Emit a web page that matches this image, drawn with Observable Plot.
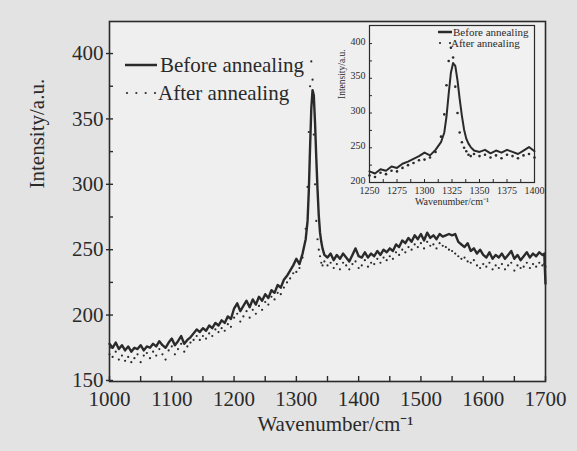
<!DOCTYPE html>
<html><head><meta charset="utf-8">
<script src="https://cdn.jsdelivr.net/npm/d3@7"></script>
<script src="https://cdn.jsdelivr.net/npm/@observablehq/plot@0.6"></script>
<style>
html,body{margin:0;padding:0;background:#e3e3e3;}
#fig{position:relative;width:577px;height:451px;overflow:hidden;background:#e3e3e3;}
#fig svg{position:absolute;}
</style></head><body><div id="fig"></div>
<script>
// Raman spectra (wavenumber in cm^-1, intensity in a.u.)
const wavenumber = [
1000,1005,1010,1015,1020,1025,1030,1035,1040,1045,
1050,1055,1060,1065,1070,1075,1080,1085,1090,1095,
1100,1105,1110,1115,1120,1125,1130,1135,1140,1145,
1150,1155,1160,1165,1170,1175,1180,1185,1190,1195,
1200,1205,1210,1215,1220,1225,1230,1235,1240,1245,
1250,1255,1260,1265,1270,1275,1280,1285,1290,1295,
1300,1305,1310,1315,1318,1320,1322,1324,1326,1328,
1330,1332,1334,1336,1338,1340,1342,1345,1350,1355,
1360,1365,1370,1375,1380,1385,1390,1395,1400,1405,
1410,1415,1420,1425,1430,1435,1440,1445,1450,1455,
1460,1465,1470,1475,1480,1485,1490,1495,1500,1505,
1510,1515,1520,1525,1530,1535,1540,1545,1550,1555,
1560,1565,1570,1575,1580,1585,1590,1595,1600,1605,
1610,1615,1620,1625,1630,1635,1640,1645,1650,1655,
1660,1665,1670,1675,1680,1685,1690,1695,1698,1700];
const before = [
178,175,179,174,177,173,176,172,175,174,
177,173,176,175,178,176,180,177,175,179,
182,177,180,184,178,181,183,186,189,187,
190,188,192,190,194,192,196,194,199,197,
205,209,203,207,211,206,212,208,214,211,
216,213,219,217,223,221,227,230,234,238,
243,239,247,258,272,295,328,358,372,368,
347,320,296,276,263,256,251,246,244,247,
242,246,243,247,244,241,246,251,245,244,
248,244,247,245,249,246,250,248,251,249,
254,252,257,255,259,256,261,258,262,257,
263,259,261,258,262,260,261,262,261,262,
256,254,252,255,249,251,247,250,246,244,
248,243,246,244,247,243,246,249,243,246,
242,245,248,244,247,245,248,246,247,224];
const after = [
170,168,172,166,169,165,168,164,167,170,
164,169,171,167,172,169,174,170,166,173,
176,170,174,178,172,176,179,181,184,181,
184,182,186,184,189,187,190,188,193,191,
198,201,195,199,203,198,204,201,207,204,
210,208,214,212,217,216,221,225,228,232,
233,236,244,266,298,340,375,394,380,338,
300,272,258,250,245,240,238,241,238,240,
236,239,235,240,238,235,239,241,236,238,
242,237,240,239,243,240,244,242,245,243,
248,246,250,248,252,250,254,252,255,251,
256,253,254,251,255,253,252,250,249,247,
245,243,244,241,240,242,238,236,239,237,
240,235,238,236,239,235,238,240,234,238,
236,237,240,236,239,237,240,238,239,237];

const seriesNames = ["Before annealing", "After annealing"];
const xLabel = "Wavenumber/cm\u207B\u00B9";
const yLabel = "Intensity/a.u.";

const mainXTicks = [1000,1100,1200,1300,1400,1500,1600,1700];
const mainXMinor = [1050,1150,1250,1350,1450,1550,1650];
const mainYTicks = [150,200,250,300,350,400];
const mainYMinor = [175,225,275,325,375];
const insetXTicks = [1250,1275,1300,1325,1350,1375,1400];
const insetXMinor = [1262.5,1287.5,1312.5,1337.5,1362.5,1387.5];
const insetYTicks = [200,250,300,350,400];
const insetYMinor = [225,275,325,375];

const rows = wavenumber.map((w, i) => ({w, before: before[i], after: after[i]}));
const insetRows = rows.filter(d => d.w >= 1250 && d.w <= 1400);

const serif = "'Liberation Serif','Times New Roman',serif";
const ink = "#2a2a2a";
const fig = document.getElementById("fig");

const main = Plot.plot({
  width: 577, height: 451,
  marginLeft: 109, marginRight: 32, marginTop: 21, marginBottom: 70,
  style: {background: "transparent", fontFamily: serif, color: ink, overflow: "visible"},
  x: {domain: [1000, 1700]},
  y: {domain: [149.2, 424.5]},
  marks: [
    Plot.frame({fill: "#efefef", stroke: "none"}),
    Plot.dot(rows, {x: "w", y: "after", r: 1.1, fill: ink, stroke: "none"}),
    Plot.line(rows, {x: "w", y: "before", stroke: ink, strokeWidth: 2.4}),
    Plot.frame({stroke: ink, strokeWidth: 1.6}),
    Plot.axisX({ticks: mainXTicks, tickSize: 0, tickPadding: 10, fontSize: 21, tickFormat: d => String(d), label: null}),
    Plot.axisX({ticks: mainXTicks.concat(mainXMinor), tickSize: -5, text: null, label: null, strokeWidth: 1.4}),
    Plot.axisY({ticks: mainYTicks, tickSize: 0, tickPadding: 6, fontSize: 21, label: null}),
    Plot.axisY({ticks: mainYTicks, tickSize: 3, text: null, label: null, strokeWidth: 1.4}),
    Plot.axisY({ticks: mainYTicks.concat(mainYMinor), tickSize: -4, text: null, label: null, strokeWidth: 1.4}),
    Plot.text([xLabel], {frameAnchor: "bottom", dx: 8, dy: 49, fontSize: 21, fill: ink}),
    Plot.text([yLabel], {frameAnchor: "left", dx: -72, dy: -13, rotate: -90, fontSize: 21, fill: ink})
  ]
});
main.style.left = "0px"; main.style.top = "0px";
fig.appendChild(main);

const inset = Plot.plot({
  width: 215, height: 200,
  marginLeft: 39, marginRight: 11, marginTop: 7, marginBottom: 36,
  style: {background: "transparent", fontFamily: serif, color: ink, overflow: "visible"},
  x: {domain: [1250, 1400]},
  y: {domain: [200, 426]},
  marks: [
    Plot.frame({fill: "#f1f1f1", stroke: "none"}),
    Plot.dot(insetRows, {x: "w", y: "after", r: 1.3, fill: ink, stroke: "none"}),
    Plot.line(insetRows, {x: "w", y: "before", stroke: ink, strokeWidth: 2}),
    Plot.frame({stroke: ink, strokeWidth: 1.2}),
    Plot.axisX({ticks: insetXTicks, tickSize: 0, tickPadding: 4, fontSize: 10, tickFormat: d => String(d), label: null}),
    Plot.axisX({ticks: insetXTicks.concat(insetXMinor), tickSize: -3, text: null, label: null}),
    Plot.axisY({ticks: insetYTicks, tickSize: 0, tickPadding: 4, fontSize: 10, dy: -2, label: null}),
    Plot.axisY({ticks: insetYTicks.concat(insetYMinor), tickSize: -3, text: null, label: null}),
    Plot.text([xLabel], {frameAnchor: "bottom", dy: 22, fontSize: 10, fill: ink}),
    Plot.text([yLabel], {frameAnchor: "left", dx: -28, dy: -5, rotate: -90, fontSize: 9.5, fill: ink})
  ]
});
inset.style.left = "330px"; inset.style.top = "18px";
fig.appendChild(inset);

// Legends
const leg = d3.select(fig).append("svg")
  .attr("width", 577).attr("height", 451)
  .style("left", "0px").style("top", "0px")
  .attr("font-family", serif).attr("fill", ink);
function legend(g, x0, len, yLine, yDot, size, lw, nDots, r, textX) {
  g.append("line").attr("x1", x0).attr("x2", x0 + len).attr("y1", yLine).attr("y2", yLine)
    .attr("stroke", ink).attr("stroke-width", lw);
  g.append("text").attr("x", textX).attr("y", yLine).attr("dy", "0.32em")
    .attr("font-size", size).text(seriesNames[0]);
  for (let i = 0; i < nDots; i++) {
    g.append("circle").attr("cx", x0 + 2 + i * (len - 4) / Math.max(1, nDots - 1)).attr("cy", yDot).attr("r", r);
  }
  g.append("text").attr("x", textX - 2).attr("y", yDot).attr("dy", "0.32em")
    .attr("font-size", size).text(seriesNames[1]);
}
legend(leg, 125, 32, 65, 93, 21, 2.5, 4, 1.1, 160);
legend(leg, 438, 14, 32, 43, 11, 2.5, 2, 1.1, 453);
</script></body></html>
